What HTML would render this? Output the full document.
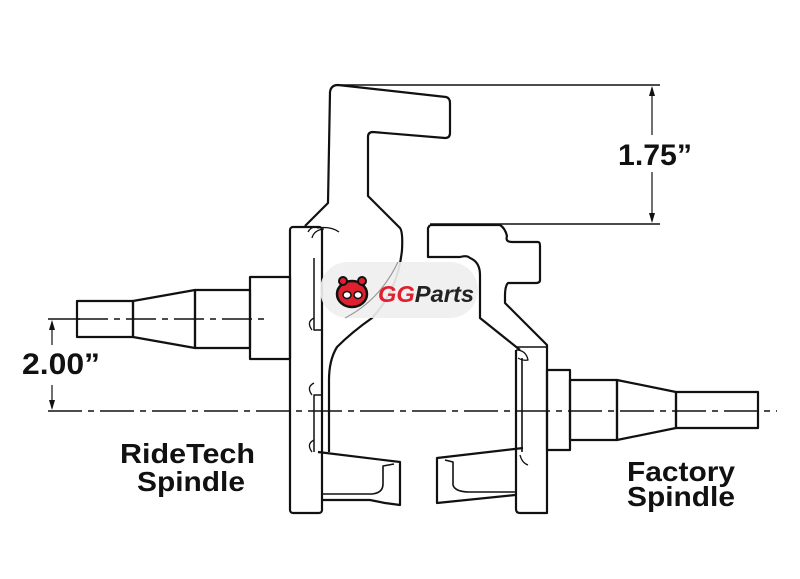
<!DOCTYPE html>
<html><head><meta charset="utf-8"><style>
html,body{margin:0;padding:0;background:#fff;}
svg{display:block;}
text{font-family:"Liberation Sans",sans-serif;font-weight:bold;fill:#111;}
</style></head><body>
<svg width="800" height="579" viewBox="0 0 800 579" xmlns="http://www.w3.org/2000/svg">
<g fill="none" stroke="#111" stroke-width="2.2" stroke-linejoin="round">
<!-- dimension 1.75 -->
<line x1="335" y1="85" x2="660" y2="85" stroke-width="1.5"/>
<line x1="430" y1="224" x2="660" y2="224" stroke-width="1.5"/>
<line x1="652" y1="88" x2="652" y2="135" stroke-width="1.2"/>
<line x1="652" y1="172" x2="652" y2="221" stroke-width="1.2"/>
<!-- dimension 2.00 -->
<line x1="48" y1="319" x2="80" y2="319" stroke-width="1.5"/>
<line x1="52" y1="322" x2="52" y2="345" stroke-width="1.2"/>
<line x1="52" y1="385" x2="52" y2="408" stroke-width="1.2"/>
<!-- centerlines -->
<line x1="48" y1="411" x2="777" y2="411" stroke-width="1.6" stroke-dasharray="34,6,6,6"/>
<line x1="78" y1="319" x2="265" y2="319" stroke-width="1.5" stroke-dasharray="30,6,6,6"/>
<!-- left spindle shaft -->
<rect x="77" y="301" width="56" height="36"/>
<polygon points="133,301 195,290 195,348 133,337"/>
<rect x="195" y="290" width="55" height="58"/>
<rect x="250" y="277" width="40" height="82"/>
<!-- left plate -->
<rect x="290" y="227" width="32" height="286" rx="3"/>
<!-- left arm -->
<path d="M305,226 L328,203 L330,92 Q331,85 338,85 L446,97 Q450,98 450,103 L450,133 Q450,138 445,138 L373,132 Q368,132 368,137 L368,196 L400,228 Q403,232 402,250 Q398,290 372,318 Q352,332 337,347 Q329,360 329,380 L329,452"/>
<path d="M314,258 L314,330 L322,330 L322,395 L314,395 L314,452" stroke-width="1.5"/>
<path d="M308,232 q3,-6 10,-5 M312,238 q2,-8 12,-9 M317,228 q14,-2 22,4" stroke-width="1.3"/>
<path d="M312,330 q-6,-8 2,-12 M312,395 q-6,-8 2,-12 M312,452 q-6,-8 2,-12" stroke-width="1.3"/>
<!-- left cup -->
<path d="M318,452 L400,462 L400,505 L385,503 L370,500 L322,500"/>
<path d="M322,494 L372,494 Q383,493 383,484 L383,466 L394,464" stroke-width="1.6"/>
<!-- right upper -->
<path d="M430,225 L500,225 Q505,228 507,236 Q505,242 512,242 L538,242 Q540,242 540,246 L540,280 Q540,283 536,283 L508,283 Q505,286 505,296 L505,303 L547,345 L547,513 L520,513 Q516,513 516,509 L516,350"/>
<path d="M430,225 L428,228 L428,257 L460,257 Q467,255 470,258 Q480,262 480,275 L480,318 L520,350"/>
<line x1="516" y1="347" x2="547" y2="347" stroke-width="1.6"/>
<line x1="522" y1="358" x2="522" y2="452" stroke-width="1.6"/>
<path d="M516,350 q10,0 12,10 q-5,1 -10,-2 M520,455 q2,8 8,10" stroke-width="1.3"/>
<!-- right cup -->
<path d="M523,448 L437,458 L437,503 L515,495"/>
<path d="M445,460 L453,462 L453,485 Q455,492 470,492 L515,492" stroke-width="1.6"/>
<!-- right spindle shaft -->
<rect x="547" y="370" width="23" height="80"/>
<rect x="570" y="380" width="47" height="60"/>
<polygon points="617,380 676,392 676,428 617,440"/>
<rect x="676" y="392" width="82" height="36"/>
</g>
<!-- arrowheads -->
<g fill="#111">
<polygon points="652,86 649,96 655,96"/>
<polygon points="652,223 649,213 655,213"/>
<polygon points="52,320 49,330 55,330"/>
<polygon points="52,410 49,400 55,400"/>
</g>
<!-- labels -->
<text x="618" y="165" font-size="30" textLength="74" lengthAdjust="spacingAndGlyphs">1.75”</text>
<text x="22" y="374" font-size="30" textLength="78" lengthAdjust="spacingAndGlyphs">2.00”</text>
<text x="120" y="463" font-size="28" textLength="135" lengthAdjust="spacingAndGlyphs">RideTech</text>
<text x="137" y="491" font-size="28" textLength="108" lengthAdjust="spacingAndGlyphs">Spindle</text>
<text x="627" y="481" font-size="28" textLength="108" lengthAdjust="spacingAndGlyphs">Factory</text>
<text x="627" y="506" font-size="28" textLength="108" lengthAdjust="spacingAndGlyphs">Spindle</text>
<!-- logo -->
<rect x="320" y="262" width="158" height="56" rx="28" fill="#efefef" opacity="0.92"/>
<path d="M398,262 Q380,300 345,318" fill="none" stroke="#999" stroke-width="1.2"/>
<g>
<ellipse cx="352" cy="294" rx="15" ry="13" fill="#e0202e" stroke="#111" stroke-width="2.5"/>
<circle cx="343" cy="281" r="4" fill="#e0202e" stroke="#111" stroke-width="2"/>
<circle cx="362" cy="281" r="4" fill="#e0202e" stroke="#111" stroke-width="2"/>
<ellipse cx="347" cy="295" rx="4" ry="3.5" fill="#fff" stroke="#111" stroke-width="1.5"/>
<ellipse cx="358" cy="295" rx="4" ry="3.5" fill="#fff" stroke="#111" stroke-width="1.5"/>
</g>
<text x="378" y="302" font-size="23" font-style="italic" textLength="96" lengthAdjust="spacingAndGlyphs" style="fill:#e0202e">GG<tspan style="fill:#222">Parts</tspan></text>
</svg>
</body></html>
